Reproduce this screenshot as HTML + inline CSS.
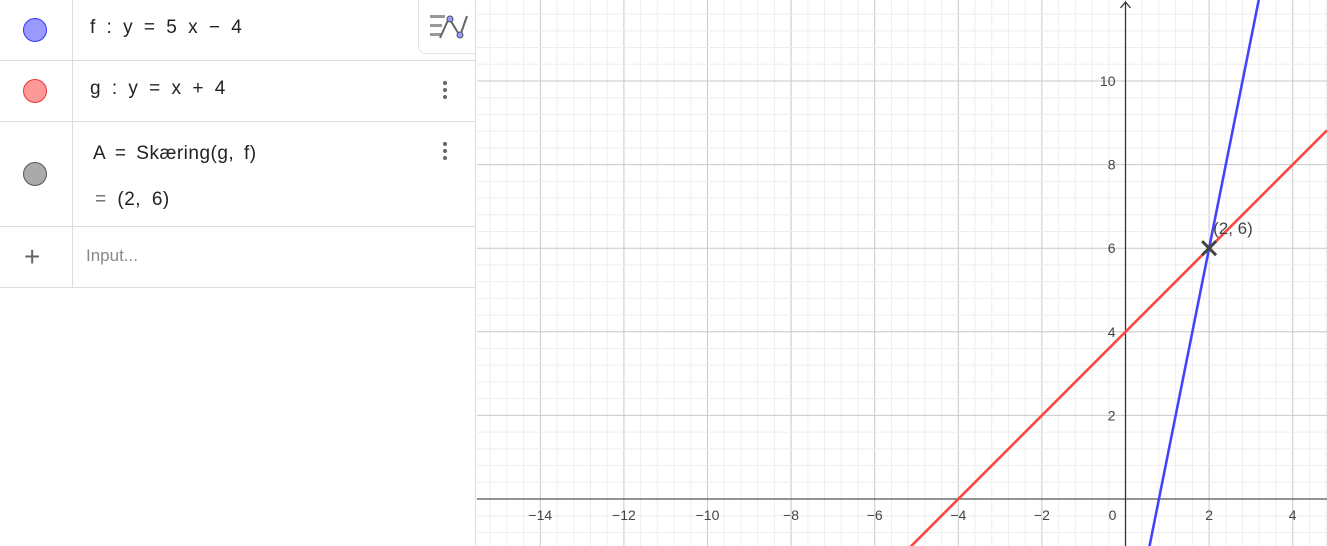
<!DOCTYPE html>
<html style="overflow:hidden"><head><meta charset="utf-8"><style>
html,body{margin:0;width:1327px;height:546px;overflow:hidden}
body{background:#fff;font-family:"Liberation Sans",sans-serif;position:relative}
#panel{position:absolute;left:0;top:0;width:475px;height:546px;border-right:1px solid #ddd;background:#fff}
.row{position:absolute;left:0;width:475px;border-bottom:1px solid #ddd}
.col{position:absolute;left:72px;top:0;bottom:0;border-left:1px solid #ddd}
.dot{position:absolute;left:23px;width:22px;height:22px;border-radius:50%}
.txt{position:absolute;left:90px;font-size:19px;color:#222;word-spacing:5px;letter-spacing:0.5px;white-space:nowrap}
.menu{position:absolute;left:443px;width:4px}
.menu i{display:block;width:4px;height:4px;border-radius:2px;background:#666;margin-bottom:3px}
</style></head><body>
<div id="panel">
 <div class="row" style="top:0;height:60px"><div class="col"></div>
  <div class="dot" style="top:18px;background:#99f;border:1px solid #33f"></div>
  <div class="txt" style="top:17px">f : y = 5 x − 4</div>
  <div style="position:absolute;left:418px;top:0;width:56px;height:53px;border:1px solid #e4e4e4;border-top:none;border-right:none;border-radius:0 0 0 8px;background:#fff">
   <svg width="56" height="53"><g fill="#999"><rect x="11" y="15" width="15" height="3"/><rect x="11" y="24" width="12" height="3"/><rect x="11" y="33" width="11" height="3"/></g><path d="M21 38 L30 18 L41 36 L48 16" stroke="#666" stroke-width="2" fill="none"/><circle cx="31" cy="19" r="3" fill="#99f" stroke="#555"/><circle cx="41" cy="35" r="3" fill="#99f" stroke="#555"/></svg></div>
 </div>
 <div class="row" style="top:61px;height:60px"><div class="col"></div>
  <div class="dot" style="top:18px;background:#f99;border:1px solid #e33"></div>
  <div class="txt" style="top:17px">g : y = x + 4</div>
  <div class="menu" style="top:20px"><i></i><i></i><i></i></div>
 </div>
 <div class="row" style="top:122px;height:104px"><div class="col"></div>
  <div class="dot" style="top:40px;background:#aaa;border:1px solid #555"></div>
  <div class="txt" style="top:21px;left:93px;word-spacing:4px">A = Skæring(g, f)</div>
  <div class="txt" style="top:67px;left:95px"><span style="color:#666">=</span> (2, 6)</div>
  <div class="menu" style="top:20px"><i></i><i></i><i></i></div>
 </div>
 <div class="row" style="top:227px;height:60px"><div class="col"></div>
  <div style="position:absolute;left:24px;top:14px;font-size:28px;color:#666">+</div>
  <div class="txt" style="left:86px;top:19px;font-size:17px;color:#888;letter-spacing:0">Input...</div>
 </div>
</div>
<svg id="chart" style="position:absolute;left:0;top:0;display:block" width="1327" height="546"></svg>
<script>
const xTicks=[-14,-12,-10,-8,-6,-4,-2,0,2,4];
const yTicks=[2,4,6,8,10];
const fSlope=5, fInt=-4;
const gSlope=1, gInt=4;
const pointA=[2,6];
const pointLabel="(2, 6)";
const ox=1125.5, oy=499, sc=41.8, left=477;
const X=v=>ox+v*sc, Y=v=>oy-v*sc;
const svg=document.getElementById('chart');
const NS='http://www.w3.org/2000/svg';
function mk(t,a){const e=document.createElementNS(NS,t);for(const k in a)e.setAttribute(k,a[k]);svg.appendChild(e);return e;}
for(let i=-40;i<=15;i++){const v=i*0.4;const px=X(v);if(px<left||px>1327)continue;const major=Math.abs(v/2-Math.round(v/2))<1e-6;
 const l=mk('line',{x1:px,y1:0,x2:px,y2:546,stroke:major?'#c8c8c8':'#eeeeee','stroke-width':1});
 
 }
for(let i=-5;i<=32;i++){const v=i*0.4;const py=Y(v);if(py<0||py>546)continue;const major=Math.abs(v/2-Math.round(v/2))<1e-6;
 const l=mk('line',{x1:left,y1:py,x2:1327,y2:py,stroke:major?'#c8c8c8':'#eeeeee','stroke-width':1});
 
 }
const xa=mk('line',{x1:left,y1:oy,x2:1327,y2:oy,stroke:'#555','stroke-width':1.3});


const ya=mk('line',{x1:ox,y1:2,x2:ox,y2:546,stroke:'#333','stroke-width':1.3});


const ar=mk('path',{d:`M${ox-5} 8 L${ox} 2 L${ox+5} 8`,stroke:'#333',fill:'none','stroke-width':1.3});


xTicks.forEach(v=>{const t=mk('text',{x:X(v)+(v===0?-13:0),y:oy+21,'text-anchor':'middle','font-size':14,fill:'#444'});t.textContent=v<0?'−'+(-v):v;
 
 });
yTicks.forEach(v=>{const t=mk('text',{x:ox-10,y:Y(v)+5,'text-anchor':'end','font-size':14,fill:'#444'});t.textContent=v;
 
 });
function line(m,b,col,name){const x0=(left-ox)/sc,x1=(1327-ox)/sc;
 const l=mk('line',{x1:X(x0),y1:Y(m*x0+b),x2:X(x1),y2:Y(m*x1+b),stroke:col,'stroke-width':2.6});
 
 }
line(gSlope,gInt,'#f44','line-g');
line(fSlope,fInt,'#44f','line-f');
const px=X(pointA[0]),py=Y(pointA[1]);
const pm=mk('path',{d:`M${px-7} ${py-7}L${px+7} ${py+7}M${px-7} ${py+7}L${px+7} ${py-7}`,stroke:'#444','stroke-width':3});


const pl=mk('text',{x:px+4,y:py-14,'font-size':17,fill:'#444'});pl.textContent=pointLabel;


</script>
</body></html>
